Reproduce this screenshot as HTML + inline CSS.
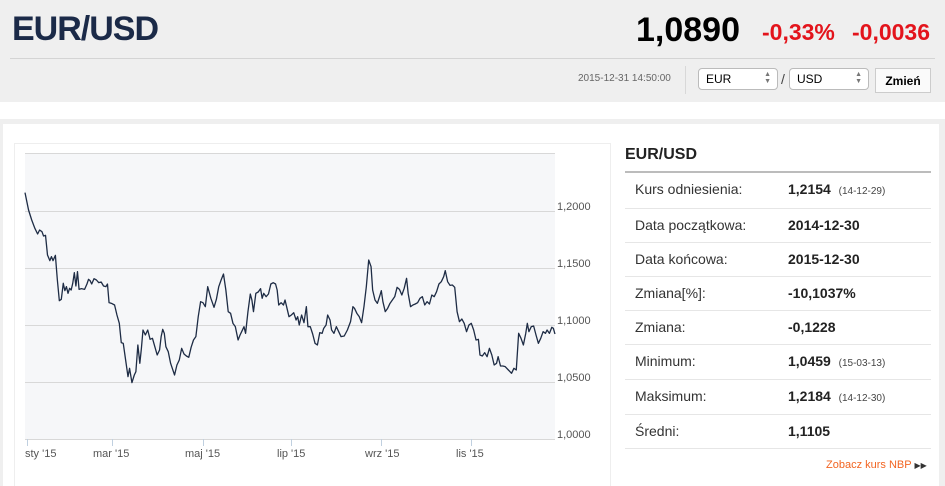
<!DOCTYPE html>
<html><head><meta charset="utf-8"><style>
*{margin:0;padding:0;box-sizing:border-box}
body{width:945px;height:486px;overflow:hidden;background:#fff;font-family:"Liberation Sans",Arial,sans-serif;position:relative}
.a{position:absolute;white-space:nowrap}
.hdr{position:absolute;left:0;top:0;width:945px;height:102px;background:#efefef}
.sel{position:absolute;top:68px;height:22px;border:1px solid #bbb;border-radius:4px;background:#fff;font-size:12px;padding:3px 0 0 7px}
.arr{position:absolute;right:6px;top:2px;font-size:7px;line-height:7px;color:#777}
.lab{font-size:14px;color:#333}
.val{font-size:14px;font-weight:bold;color:#222}
.dt{font-size:10px;color:#444;font-weight:normal}
.row{position:absolute;left:625px;width:306px;height:1px;background:#e6e6e6}
</style></head><body>
<div class="hdr"></div>
<div class="a" style="left:12px;top:10px;font-size:34px;font-weight:bold;color:#1b2a48;letter-spacing:-1px">EUR/USD</div>
<div class="a" style="left:636px;top:11px;font-size:34px;font-weight:bold;color:#000">1,0890</div>
<div class="a" style="left:762px;top:19px;font-size:23px;font-weight:bold;color:#e3141c">-0,33%</div>
<div class="a" style="left:852px;top:19px;font-size:23px;font-weight:bold;color:#e3141c">-0,0036</div>
<div class="a" style="left:10px;top:58px;width:925px;height:1px;background:#d4d4d4"></div>
<div class="a" style="left:578px;top:73px;font-size:10px;color:#666">2015-12-31 14:50:00</div>
<div class="a" style="left:685px;top:66px;width:1px;height:28px;background:#d8d8d8"></div>
<div class="sel" style="left:698px;width:80px">EUR<span class="arr">▲<br>▼</span></div>
<div class="a" style="left:781px;top:71px;font-size:14px;color:#444">/</div>
<div class="sel" style="left:789px;width:80px">USD<span class="arr">▲<br>▼</span></div>
<div class="a" style="left:875px;top:68px;width:56px;height:25px;background:#fafafa;border:1px solid #ccc;font-size:12px;font-weight:bold;text-align:center;padding-top:5px">Zmień</div>
<div class="a" style="left:0;top:119px;width:945px;height:5px;background:#efefef"></div>
<div class="a" style="left:0;top:124px;width:3px;height:362px;background:#efefef"></div>
<div class="a" style="left:939px;top:124px;width:6px;height:362px;background:#efefef"></div>
<div class="a" style="left:14px;top:143px;width:597px;height:343px;border:1px solid #eee;border-bottom:none"></div>
<svg class="a" style="left:0;top:0" width="945" height="486">
<rect x="25" y="153" width="530" height="286" fill="#f6f7f9"/>
<g stroke="#d8d8d8" stroke-width="1">
<line x1="25" y1="153.5" x2="555" y2="153.5"/>
<line x1="25" y1="211.5" x2="555" y2="211.5"/>
<line x1="25" y1="268.5" x2="555" y2="268.5"/>
<line x1="25" y1="325.5" x2="555" y2="325.5"/>
<line x1="25" y1="382.5" x2="555" y2="382.5"/>
<line x1="25" y1="439.5" x2="555" y2="439.5"/>
</g>
<g stroke="#c0d0e0"><line x1="27.5" y1="439" x2="27.5" y2="446"/><line x1="112.5" y1="439" x2="112.5" y2="446"/><line x1="203.5" y1="439" x2="203.5" y2="446"/><line x1="291.5" y1="439" x2="291.5" y2="446"/><line x1="381.5" y1="439" x2="381.5" y2="446"/><line x1="471.5" y1="439" x2="471.5" y2="446"/></g>
<g font-size="11" fill="#555" font-family="Liberation Sans,Arial,sans-serif">
<text x="557" y="210">1,2000</text><text x="557" y="267">1,1500</text><text x="557" y="324">1,1000</text><text x="557" y="381">1,0500</text><text x="557" y="438">1,0000</text>
<text x="25" y="457">sty '15</text><text x="93" y="457">mar '15</text><text x="185" y="457">maj '15</text><text x="277" y="457">lip '15</text><text x="365" y="457">wrz '15</text><text x="456" y="457">lis '15</text>
</g>
<g transform="translate(0.14,130) scale(0.3946,0.33333)">
<polyline vector-effect="non-scaling-stroke" fill="none" stroke="#1e2c45" stroke-width="1.3" stroke-linejoin="round" points="63,188 72,240 80,270 88,295 95,312 100,300 106,305 110,318 115,316 120,375 126,392 130,380 134,392 140,376 145,450 150,512 155,508 160,460 164,482 168,470 172,490 176,475 180,480 184,460 188,428 192,468 196,425 200,478 206,476 214,478 220,462 224,448 228,452 232,462 238,446 244,450 250,458 256,456 262,468 268,470 272,462 276,518 282,520 290,525 296,555 302,580 307,638 312,640 318,690 324,740 328,715 334,758 340,735 344,725 349,645 354,700 358,655 362,600 368,615 374,600 380,628 386,625 392,650 398,675 404,660 408,620 412,598 416,610 420,650 426,665 432,700 442,735 448,705 454,690 460,655 466,672 472,678 478,682 484,652 490,630 496,620 502,560 508,515 514,518 520,530 526,470 534,505 542,532 548,508 554,470 560,450 566,432 572,480 578,545 584,550 590,580 596,590 603,630 608,615 612,605 618,590 622,610 628,545 634,492 638,510 642,545 648,490 654,486 660,476 664,505 668,490 674,500 680,492 686,462 692,458 698,462 702,480 706,525 712,518 718,525 722,510 726,530 732,560 738,555 744,548 750,570 754,560 758,585 764,555 770,578 776,530 780,590 786,590 792,612 798,640 804,645 810,608 816,610 820,595 826,585 830,555 836,570 840,600 846,610 852,590 858,605 864,620 872,618 880,600 888,575 894,530 898,535 904,550 910,560 916,578 922,530 928,470 934,390 940,410 944,480 950,510 956,520 962,498 966,482 970,515 976,545 982,535 988,520 994,510 1000,500 1006,472 1012,478 1018,495 1024,475 1030,445 1034,490 1040,530 1046,525 1052,522 1058,518 1064,505 1070,500 1076,525 1082,515 1088,522 1094,495 1100,500 1106,485 1112,462 1118,455 1124,440 1128,422 1134,455 1140,466 1146,465 1152,472 1158,545 1164,575 1170,567 1176,580 1182,605 1188,585 1194,580 1200,600 1206,630 1212,628 1216,675 1222,678 1228,668 1234,680 1240,655 1246,675 1252,705 1258,700 1262,680 1268,708 1274,708 1280,710 1288,720 1296,730 1302,715 1308,720 1314,610 1320,625 1326,645 1332,610 1336,580 1340,605 1346,590 1352,588 1358,615 1364,640 1370,625 1376,605 1382,610 1386,600 1392,610 1398,592 1402,595 1406,612"/>
</g>
</svg>
<div class="a" style="left:625px;top:146px;font-size:16px;font-weight:bold;color:#222">EUR/USD</div>
<div class="a" style="left:625px;top:171px;width:306px;height:2px;background:#bcbcbc"></div>
<div class="row" style="top:208px"></div><div class="row" style="top:242px"></div><div class="row" style="top:276px"></div><div class="row" style="top:310px"></div><div class="row" style="top:344px"></div><div class="row" style="top:379px"></div><div class="row" style="top:414px"></div><div class="row" style="top:448px"></div>
<div class="a lab" style="left:635px;top:181px">Kurs odniesienia:</div><div class="a val" style="left:788px;top:181px">1,2154 &nbsp;<span class="dt">(14-12-29)</span></div>
<div class="a lab" style="left:635px;top:217px">Data początkowa:</div><div class="a val" style="left:788px;top:217px">2014-12-30</div>
<div class="a lab" style="left:635px;top:251px">Data końcowa:</div><div class="a val" style="left:788px;top:251px">2015-12-30</div>
<div class="a lab" style="left:635px;top:285px">Zmiana[%]:</div><div class="a val" style="left:788px;top:285px">-10,1037%</div>
<div class="a lab" style="left:635px;top:319px">Zmiana:</div><div class="a val" style="left:788px;top:319px">-0,1228</div>
<div class="a lab" style="left:635px;top:353px">Minimum:</div><div class="a val" style="left:788px;top:353px">1,0459 &nbsp;<span class="dt">(15-03-13)</span></div>
<div class="a lab" style="left:635px;top:388px">Maksimum:</div><div class="a val" style="left:788px;top:388px">1,2184 &nbsp;<span class="dt">(14-12-30)</span></div>
<div class="a lab" style="left:635px;top:423px">Średni:</div><div class="a val" style="left:788px;top:423px">1,1105</div>
<div class="a" style="left:826px;top:459px;font-size:11px;color:#f26522">Zobacz kurs NBP <span style="color:#333;font-size:8px">▶▶</span></div>
</body></html>
